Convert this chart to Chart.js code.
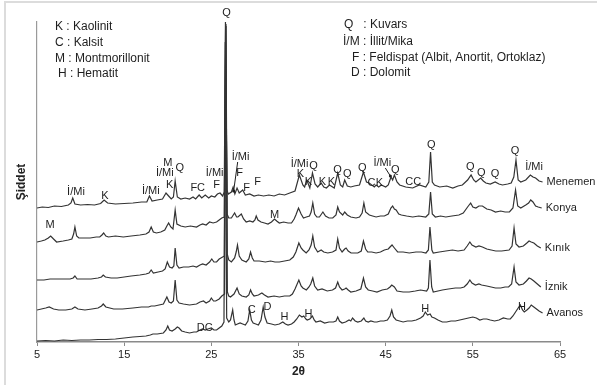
<!DOCTYPE html>
<html><head><meta charset="utf-8">
<script src="https://cdn.jsdelivr.net/npm/chart.js@4/dist/chart.umd.min.js"></script>
<style>html,body{margin:0;padding:0;background:#fff;overflow:hidden}</style>
</head><body>
<canvas id="c" width="597" height="385"></canvas>
<script>
// ---- data (2θ, intensity offset) ----
const xTicks = [5, 15, 25, 35, 45, 55, 65];
const seriesNames = ['Menemen', 'Konya', 'Kınık', 'İznik', 'Avanos'];

const menemen = [[5.0,134],[5.6,135],[6.3,134.5],[7.0,136],[7.8,135.5],[8.6,137],[8.9,139],[9.1,144],[9.35,138],[10.0,137],[10.8,137.5],[11.6,137],[12.3,138.5],[12.7,142],[13.1,139],[14.0,138],[15.0,138.5],[16.0,139],[17.0,140],[17.6,140],[17.9,146],[18.2,141],[18.8,142],[19.4,143],[19.8,149],[20.1,146],[20.4,143],[20.65,145],[20.85,161],[21.1,145],[21.5,143],[22.0,144],[22.5,143],[22.9,145],[23.2,143],[23.6,147],[23.9,144],[24.3,147],[24.7,144],[25.0,146],[25.4,145],[25.7,148],[26.0,149],[26.3,146],[26.48,150],[26.62,320],[26.78,152],[26.95,148],[27.3,150],[27.5,155],[27.7,148],[27.95,154],[28.2,149],[28.6,152],[28.9,147],[29.4,148],[29.9,146],[30.4,147],[31.0,146],[31.6,147],[32.2,146],[32.8,148],[33.4,147],[34.0,149],[34.6,151],[35.1,167],[35.5,157],[35.7,155],[35.95,162],[36.3,154],[36.6,169],[36.9,158],[37.2,155],[37.6,159],[37.9,155],[38.2,154],[38.55,157],[39.1,154],[39.5,169],[39.8,157],[40.07,155],[40.3,162],[40.6,156],[41.0,155],[41.4,156],[42.0,157],[42.45,170],[42.8,160],[43.1,159],[43.7,155],[43.9,157],[44.2,155],[44.5,157],[45.0,155],[45.3,157],[45.61,165],[45.8,162],[46.0,167],[46.3,160],[46.6,157],[47.3,155],[48.1,154],[48.86,157],[49.6,155],[49.95,160],[50.15,190],[50.35,160],[50.6,157],[51.2,155],[52.0,156],[52.7,154],[53.3,156],[53.8,157],[54.4,162],[54.8,167],[55.1,162],[55.35,160],[55.9,164],[56.2,161],[56.5,159],[57.0,158],[57.56,160],[58.0,158],[58.4,157],[59.0,158],[59.4,159],[59.7,165],[59.95,182],[60.2,162],[60.5,160],[61.07,162],[61.6,167],[61.9,165],[62.2,164],[62.6,161],[63.0,160]];

const konya = [[5.0,100],[5.5,101],[5.9,102],[6.3,104],[6.57,106],[6.9,103],[7.25,100],[8.0,101],[8.6,102],[9.0,103],[9.2,108],[9.35,115],[9.55,106],[9.8,104],[10.5,104],[11.1,104],[11.8,105],[12.2,105],[12.45,107],[12.65,109],[12.9,106],[13.2,105],[14.0,106],[14.9,105],[15.8,106],[16.8,107],[17.5,108],[17.85,110],[18.1,115],[18.35,110],[18.7,109],[19.2,110],[19.66,112],[19.9,116],[20.1,119],[20.35,115],[20.6,113],[20.85,132],[21.05,118],[21.5,116],[22.0,115],[22.6,116],[23.3,115],[23.7,117],[24.0,118],[24.4,117],[24.8,120],[25.2,119],[25.6,120],[25.9,122],[26.2,124],[26.48,125],[26.64,318],[26.8,128],[27.0,124],[27.3,124],[27.67,129],[27.9,125],[28.05,125],[28.44,128],[28.7,123],[29.0,120],[29.4,121],[29.77,120],[30.0,122],[30.15,126],[30.35,122],[30.7,120],[31.1,119],[31.5,118],[31.9,120],[32.25,123],[32.5,121],[32.8,119],[33.3,120],[33.8,119],[34.2,119],[34.5,123],[34.7,127],[35.0,134],[35.3,128],[35.57,124],[35.9,125],[36.26,126],[36.45,130],[36.64,139],[36.85,128],[37.1,125],[37.4,125],[37.8,130],[38.1,126],[38.5,124],[38.93,124],[39.3,127],[39.5,135],[39.7,130],[40.07,127],[40.3,130],[40.6,127],[41.0,125],[41.6,124],[42.0,125],[42.3,129],[42.5,139],[42.7,130],[43.13,127],[43.5,126],[43.9,125],[44.4,126],[44.85,126],[45.3,128],[45.6,134],[45.8,136],[46.0,133],[46.2,132],[46.5,128],[46.8,127],[47.4,126],[48.1,125],[48.8,126],[49.6,125],[49.95,128],[50.15,150],[50.35,128],[50.7,125],[51.3,126],[51.9,125],[52.6,126],[53.4,127],[53.9,129],[54.4,135],[54.75,139],[55.0,135],[55.35,134],[55.7,136],[56.1,136],[56.6,133],[57.1,132],[57.6,130],[58.2,131],[58.7,130],[59.2,130],[59.6,134],[59.9,152],[60.15,136],[60.5,134],[61.07,137],[61.4,139],[61.64,142],[61.9,140],[62.2,136],[62.5,135],[62.9,134]];

const kinik = [[5.0,62],[5.8,62],[6.5,63],[7.2,63],[8.0,63],[8.8,63],[9.15,64],[9.35,66],[9.6,63],[10.4,63],[11.2,63],[12.0,64],[12.4,65],[12.6,67],[12.85,65],[13.5,64],[14.2,64],[15.0,65],[15.8,66],[16.8,67],[17.5,68],[17.85,69],[18.1,72],[18.35,69],[18.9,70],[19.4,71],[19.7,73],[19.95,80],[20.2,75],[20.5,74],[20.7,76],[20.85,94],[21.05,77],[21.3,74],[21.8,75],[22.4,75],[22.9,76],[23.3,75],[23.7,77],[24.0,78],[24.4,77],[24.8,80],[25.05,83],[25.3,80],[25.6,80],[25.9,83],[26.3,85],[26.5,86],[26.66,318],[26.82,88],[27.0,82],[27.3,80],[27.67,84],[27.85,90],[28.0,97],[28.2,86],[28.5,82],[29.0,80],[29.3,83],[29.5,90],[29.7,84],[29.9,81],[30.5,81],[31.2,80],[31.8,81],[32.3,80],[32.8,80],[33.4,81],[34.0,82],[34.4,85],[34.7,90],[35.04,99],[35.3,94],[35.5,92],[35.88,89],[36.2,92],[36.45,97],[36.64,106],[36.85,95],[37.2,90],[37.6,92],[37.9,90],[38.36,89],[38.9,90],[39.3,92],[39.5,103],[39.7,94],[40.0,90],[40.3,93],[40.46,94],[40.7,91],[41.03,89],[41.8,89],[42.2,91],[42.45,101],[42.7,93],[42.94,90],[43.4,90],[43.9,89],[44.4,90],[44.85,92],[45.3,93],[45.5,95],[45.73,97],[46.0,94],[46.37,90],[47.0,90],[47.71,89],[48.48,90],[49.1,90],[49.62,89],[49.9,92],[50.08,115],[50.3,92],[50.46,89],[51.15,90],[51.9,91],[52.67,92],[53.3,91],[54.0,92],[54.35,96],[54.66,100],[54.9,97],[55.35,95],[55.7,96],[56.1,95],[56.6,93],[57.1,92],[57.63,91],[58.3,91],[59.16,92],[59.5,96],[59.73,114],[59.95,98],[60.3,95],[60.8,96],[61.2,99],[61.45,101],[61.7,100],[62.0,99],[62.4,96],[62.8,94]];

const iznik = [[5.0,32],[5.5,33],[6.0,34],[6.4,35],[6.9,33],[7.5,32],[8.3,32],[9.0,33],[9.35,35],[9.7,33],[10.5,32],[11.3,33],[12.0,34],[12.4,36],[12.6,38],[12.9,35],[13.8,33],[14.8,33],[16.0,34],[17.0,35],[17.8,35],[18.1,36],[18.5,36],[19.0,37],[19.5,38],[19.9,45],[20.15,40],[20.4,39],[20.65,41],[20.85,62],[21.05,42],[21.3,39],[21.8,38],[22.5,37],[23.3,38],[23.7,40],[24.1,41],[24.4,39],[24.8,41],[25.0,44],[25.25,41],[25.5,41],[25.9,43],[26.2,46],[26.52,48],[26.68,316],[26.84,50],[27.0,46],[27.2,45],[27.6,48],[27.95,54],[28.2,48],[28.5,46],[29.0,45],[29.3,47],[29.5,52],[29.7,48],[29.9,46],[30.4,47],[30.8,49],[31.1,47],[31.5,45],[32.2,46],[32.8,45],[33.4,46],[34.0,46],[34.3,48],[34.6,53],[35.04,62],[35.3,56],[35.5,54],[35.9,52],[36.2,55],[36.4,58],[36.64,64],[36.85,56],[37.2,52],[37.7,53],[38.3,51],[38.9,52],[39.25,54],[39.5,60],[39.7,55],[40.0,52],[40.3,53],[40.46,54],[40.7,52],[41.0,50],[41.6,51],[42.15,53],[42.45,64],[42.7,55],[43.0,52],[43.5,51],[44.0,50],[44.6,52],[45.2,53],[45.5,55],[45.7,57],[46.0,55],[46.3,51],[47.0,50],[47.7,50],[48.4,51],[49.0,52],[49.7,51],[49.9,54],[50.08,82],[50.28,55],[50.46,50],[51.0,51],[51.5,52],[52.2,53],[53.0,54],[53.6,54],[54.0,55],[54.35,58],[54.66,62],[54.9,59],[55.3,57],[55.7,58],[56.0,57],[56.6,56],[57.1,55],[57.6,54],[58.2,54],[58.7,55],[59.1,55],[59.45,58],[59.73,75],[59.95,60],[60.3,57],[60.8,58],[61.15,61],[61.45,64],[61.7,63],[62.0,61],[62.4,58],[62.8,55]];

const avanos = [[5.0,1],[6.0,1.5],[7.0,1],[8.0,2],[9.0,1.5],[10.0,2],[11.0,2],[12.0,2.5],[13.0,2.5],[14.0,3],[15.0,4],[16.0,5],[16.8,5.5],[17.5,6],[18.0,7],[18.3,8],[18.8,8],[19.5,9],[19.8,12],[20.0,16],[20.2,12],[20.5,11],[20.85,13],[21.1,15],[21.3,14],[21.6,11],[22.0,10],[22.5,9],[23.0,10],[23.3,10],[23.7,12],[24.0,13],[24.3,12],[24.6,13],[25.0,14],[25.3,12],[25.6,12],[25.9,14],[26.2,16],[26.45,20],[26.6,300],[26.76,24],[27.0,20],[27.2,22],[27.45,32],[27.6,22],[27.75,17],[28.0,18],[28.3,19],[28.6,18],[28.9,17],[29.2,21],[29.4,32],[29.6,22],[29.8,19],[30.1,18],[30.4,17],[30.7,22],[30.95,35],[31.15,25],[31.4,19],[31.9,18],[32.3,17],[32.8,18],[33.2,20],[33.5,18],[33.8,17],[34.2,18],[34.5,20],[34.8,23],[35.1,27],[35.4,25],[35.6,26],[35.85,23],[36.0,22],[36.3,23],[36.6,26],[36.8,22],[37.0,20],[37.5,21],[38.0,19],[38.5,20],[39.0,20],[39.3,21],[39.5,25],[39.7,21],[40.0,19],[40.4,20],[40.8,22],[41.0,21],[41.2,24],[41.5,21],[41.8,20],[42.2,21],[42.5,24],[42.7,21],[43.0,20],[43.3,21],[43.7,20],[44.0,20],[44.4,21],[44.8,21],[45.2,22],[45.5,26],[45.7,32],[45.9,25],[46.2,22],[46.6,21],[47.0,20],[47.5,21],[48.0,21],[48.5,22],[49.0,24],[49.3,26],[49.55,30],[49.8,27],[50.1,28],[50.3,25],[50.6,24],[51.0,22],[51.5,20],[52.0,20],[52.5,21],[53.0,21],[53.5,22],[54.0,23],[54.5,24],[55.0,25],[55.4,24],[55.8,22],[56.2,23],[56.6,23],[57.0,22],[57.5,21],[58.0,22],[58.5,24],[59.0,23],[59.3,23],[59.6,26],[59.9,30],[60.2,34],[60.45,37],[60.7,32],[60.9,30],[61.2,32],[61.45,34],[61.7,37],[62.0,35],[62.3,33],[62.6,31],[63.0,29]];

// phase labels: [text, 2θ, intensity]
const phaseLabels = [
  ['İ/Mi',9.47,150],['K',12.79,146],['İ/Mi',18.05,151],['K',20.23,157],['İ/Mi',19.66,169],['M',20.0,179],['Q',21.37,174],
  ['FC',23.44,154],['İ/Mi',25.38,169],['F',25.61,157],['Q',26.75,329],['İ/Mi',28.36,185],['F',28.25,169],['F',29.05,154],['F',30.3,160],
  ['İ/Mi',35.12,178],['K',35.23,168],['Q',36.72,176],['K',36.15,160],['K',37.75,160],['K',38.78,160],['Q',39.47,172],['Q',40.61,168],
  ['Q',42.33,174],['C',43.36,159],['K',44.28,159],['İ/Mi',44.62,179],['Q',46.11,172],['C',47.71,160],['C',48.63,160],['Q',50.23,197],
  ['Q',54.7,175],['Q',55.96,169],['Q',57.56,168],['Q',59.85,191],['İ/Mi',62.03,175],
  ['M',6.49,117],['M',32.25,127],
  ['DC',24.24,14],['C',29.62,32],['D',31.45,35],['H',33.4,25],['H',36.15,28],['H',49.54,33],['H',60.65,35]
];
// pointer lines: [2θ from, I from, 2θ to, I to]
const pointers = [[28.02,180,27.56,151],[44.96,174,45.54,166]];

const legendLeft = ['K : Kaolinit', 'C : Kalsit', 'M : Montmorillonit', 'H : Hematit'];
const legendRight = ['Q   : Kuvars', 'İ/M : İllit/Mika', 'F : Feldispat (Albit, Anortit, Ortoklaz)', 'D : Dolomit'];

const FONT = "Arial, 'Liberation Sans', sans-serif";
const allSeries = [menemen, konya, kinik, iznik, avanos];

const overlay = {
  id: 'overlay',
  beforeDraw(chart) {
    const ctx = chart.ctx;
    ctx.save();
    ctx.strokeStyle = '#dcdcdc';
    ctx.lineWidth = 2;
    ctx.beginPath();
    ctx.moveTo(5, 385); ctx.lineTo(5, 2); ctx.lineTo(597, 2);
    ctx.stroke();
    ctx.restore();
  },
  afterDraw(chart) {
    const ctx = chart.ctx, xs = chart.scales.x, ys = chart.scales.y;
    ctx.save();
    ctx.fillStyle = '#1e1e1e';
    ctx.textBaseline = 'middle';
    ctx.font = '12px ' + FONT;
    ctx.textAlign = 'left';
    const lx = [55, 55, 55, 58], ly = [27, 43, 59, 74];
    legendLeft.forEach((t, i) => ctx.fillText(t, lx[i], ly[i]));
    const rx = [344, 343, 352, 351], ry = [25, 42, 58, 73];
    legendRight.forEach((t, i) => ctx.fillText(t, rx[i], ry[i]));
    ctx.font = '11px ' + FONT;
    ctx.textAlign = 'center';
    phaseLabels.forEach(([t, a, b]) => ctx.fillText(t, xs.getPixelForValue(a), ys.getPixelForValue(b)));
    ctx.strokeStyle = '#1e1e1e';
    ctx.lineWidth = 1;
    pointers.forEach(([a1, b1, a2, b2]) => {
      const x1 = xs.getPixelForValue(a1), y1 = ys.getPixelForValue(b1);
      const x2 = xs.getPixelForValue(a2), y2 = ys.getPixelForValue(b2);
      ctx.beginPath(); ctx.moveTo(x1, y1); ctx.lineTo(x2, y2); ctx.stroke();
      ctx.beginPath(); ctx.arc(x2, y2, 1.5, 0, Math.PI * 2); ctx.fill();
    });
    ctx.textAlign = 'left';
    allSeries.forEach((s, i) => {
      const p = s[s.length - 1];
      ctx.fillText(seriesNames[i], xs.getPixelForValue(p[0]) + 4, ys.getPixelForValue(p[1]));
    });
    ctx.restore();
  }
};

new Chart(document.getElementById('c'), {
  type: 'line',
  data: {
    datasets: allSeries.map((s, i) => ({
      label: seriesNames[i],
      data: s.map(p => ({ x: p[0], y: p[1] })),
      borderColor: '#333333',
      borderWidth: 1.2,
      pointRadius: 0,
      tension: 0,
      fill: false
    }))
  },
  options: {
    responsive: false,
    animation: false,
    devicePixelRatio: 1,
    layout: { padding: { top: 22, right: 37, left: 0, bottom: 0 } },
    plugins: { legend: { display: false }, tooltip: { enabled: false } },
    scales: {
      x: {
        type: 'linear', min: 5, max: 65,
        afterBuildTicks: s => { s.ticks = xTicks.map(v => ({ value: v })); },
        afterFit: s => { s.height = 43; },
        ticks: { autoSkip: false, maxRotation: 0, color: '#222', font: { family: FONT, size: 11 }, padding: 2 },
        grid: { drawOnChartArea: false, drawTicks: true, tickLength: 4, color: '#8a8a8a' },
        border: { color: '#8a8a8a', width: 1.5 },
        title: { display: true, text: '2θ', color: '#222', font: { family: FONT, size: 12, weight: 'bold' }, padding: { top: 0, bottom: 6 } }
      },
      y: {
        min: 0, max: 320,
        afterFit: s => { s.width = 37; },
        ticks: { display: false },
        grid: { drawOnChartArea: false, drawTicks: false },
        border: { color: '#9a9a9a', width: 1.2 },
        title: { display: true, text: 'Şiddet', color: '#222', font: { family: FONT, size: 12, weight: 'bold' }, padding: { top: 14, bottom: 0 } }
      }
    }
  },
  plugins: [overlay]
});
</script>
</body></html>
